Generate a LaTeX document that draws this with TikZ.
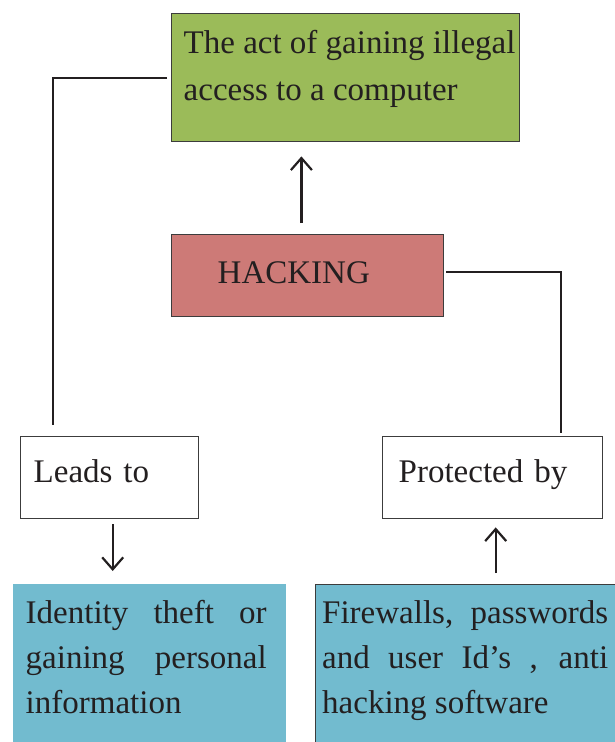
\documentclass[tikz,border=0pt]{standalone}
\usepackage{fontspec}
\setmainfont{Liberation Serif}
\usetikzlibrary{arrows.meta}
\definecolor{boxgreen}{HTML}{9BBB59}
\definecolor{boxred}{HTML}{CD7A77}
\definecolor{boxblue}{HTML}{72BBCF}
\definecolor{edge}{HTML}{3C3C3C}
\definecolor{ink}{HTML}{231F20}
\begin{document}
\begin{tikzpicture}[x=1pt,y=1pt,
  box/.style={rectangle, anchor=north west, inner ysep=0pt, text=ink,
    font=\fontsize{33}{45}\selectfont},
  framed/.style={draw=edge, line width=1.4pt},
  conn/.style={draw=ink, line width=2.2pt, line join=miter},
  arr/.style={conn, -{Straight Barb[length=12pt,width=21pt]}}]
\useasboundingbox (0,0) rectangle (615,-742);
\fill[white] (0,0) rectangle (615,-742);
\clip (0,0) rectangle (615,-742);
% boxes
\node[box, framed, fill=boxgreen, inner xsep=12pt,
  text height=40pt, text depth=88pt, font=\fontsize{33}{47}\selectfont]
  (act) at (171,-13)
  {\parbox[t]{324pt}{\raggedright\mbox{The act of gaining illegal}\\\mbox{access to a computer}}};
\node[box, framed, fill=boxred, inner xsep=46pt, text width=180pt, align=left,
  text height=49pt, text depth=33pt] (hack) at (171,-234) {HACKING};
\node[box, framed, fill=white, inner xsep=13pt, text width=152pt, align=left,
  text height=46pt, text depth=36pt] (leads) at (20,-436) {Leads to};
\node[box, framed, fill=white, inner xsep=16pt, text width=188pt, align=left,
  text height=46pt, text depth=36pt] (prot) at (382,-436) {Protected by};
\node[box, fill=boxblue, inner xsep=13pt, text height=39pt, text depth=137pt]
  (ident) at (12.5,-584)
  {\parbox[t]{241pt}{\hyphenpenalty=10000 Identity theft or\linebreak gaining personal\linebreak information}\hspace*{6pt}};
\node[box, framed, fill=boxblue, inner xsep=7pt, text height=39pt, text depth=137pt]
  (fire) at (314.5,-584)
  {\parbox[t]{286pt}{\hyphenpenalty=10000 Firewalls, passwords\linebreak and user Id’s , anti\linebreak hacking software}\hspace*{20pt}};
% connectors
\draw[arr, shorten <=11pt, shorten >=14pt] ([xshift=-6.3pt]hack.north) -- ([xshift=-6.3pt]hack.north |- act.south);
\draw[conn] ([xshift=-4pt]act.west) -| ([xshift=-57pt,yshift=11pt]leads.north);
\draw[conn] ([xshift=2pt,yshift=4pt]hack.east) -| ([xshift=68pt,yshift=3pt]prot.north);
\draw[arr, shorten <=5pt, shorten >=13pt] ([xshift=3pt]leads.south) -- ([xshift=3pt]leads.south |- ident.north);
\draw[arr, shorten <=11pt, shorten >=8pt] ([xshift=3pt]prot.south |- fire.north) -- ([xshift=3pt]prot.south);
\end{tikzpicture}
\end{document}
